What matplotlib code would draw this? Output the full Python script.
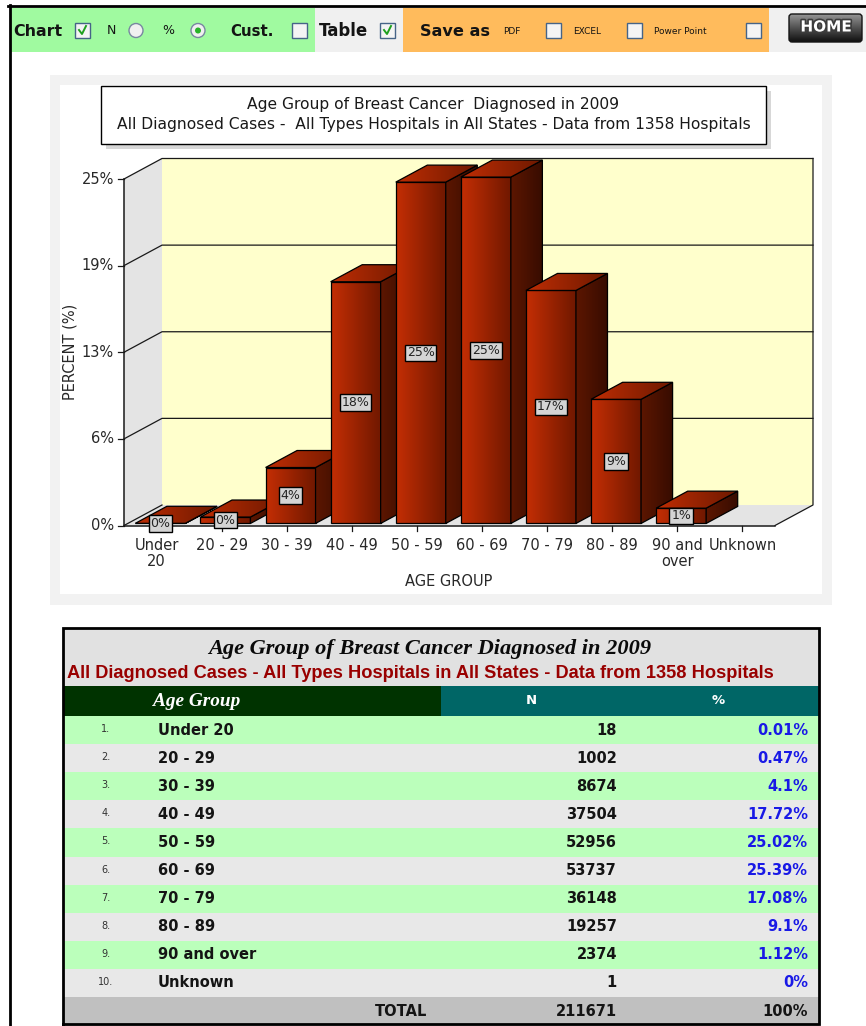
import numpy as np
import matplotlib.pyplot as plt
from matplotlib.patches import Rectangle, Polygon, Circle, FancyBboxPatch
from matplotlib.colors import LinearSegmentedColormap
import matplotlib.patheffects as pe

W, H = 866, 1026

# data
age_groups = ["Under 20", "20 - 29", "30 - 39", "40 - 49", "50 - 59",
              "60 - 69", "70 - 79", "80 - 89", "90 and over", "Unknown"]
x_labels = ["Under\n20", "20 - 29", "30 - 39", "40 - 49", "50 - 59",
            "60 - 69", "70 - 79", "80 - 89", "90 and\nover", "Unknown"]
counts = [18, 1002, 8674, 37504, 52956, 53737, 36148, 19257, 2374, 1]
percents = [0.01, 0.47, 4.1, 17.72, 25.02, 25.39, 17.08, 9.1, 1.12, 0]
y_max = 25.4  # axis top, ticks at quarters of it
y_ticks = [0, 6.35, 12.7, 19.05, 25.4]
y_tick_labels = ["0%", "6%", "13%", "19%", "25%"]

chart_title = "Age Group of Breast Cancer  Diagnosed in 2009"
chart_sub = "All Diagnosed Cases -  All Types Hospitals in All States - Data from 1358 Hospitals"
table_title = "Age Group of Breast Cancer Diagnosed in 2009"
table_sub = "All Diagnosed Cases - All Types Hospitals in All States - Data from 1358 Hospitals"


def rgb(r, g, b):
    return (r / 255, g / 255, b / 255)


fig = plt.figure(figsize=(W / 100, H / 100), dpi=100)
fig.patch.set_facecolor("white")
renderer = fig.canvas.get_renderer()

# page background axes in pixel units (y down)
bg = fig.add_axes([0, 0, 1, 1])
bg.set_xlim(0, W)
bg.set_ylim(H, 0)
bg.axis("off")
bg.set_autoscale_on(False)


def fit(t, width):
    w = t.get_window_extent(renderer=renderer).width
    t.set_fontsize(t.get_fontsize() * width / w)
    return t


def gradient(ax, patch, colors, extent, vertical=False, z=1):
    cmap = LinearSegmentedColormap.from_list("g", colors)
    arr = np.linspace(0, 1, 128)
    arr = arr.reshape(-1, 1) if vertical else arr.reshape(1, -1)
    im = ax.imshow(arr, cmap=cmap, extent=extent, aspect="auto", zorder=z,
                   interpolation="bilinear", origin="upper")
    im.set_clip_path(patch)


# ---------- toolbar ----------
bg.add_patch(Rectangle((10, 8), 305, 44, fc=rgb(160, 250, 160), lw=0))
bg.add_patch(Rectangle((315, 8), 88, 44, fc=rgb(240, 240, 240), lw=0))
bg.add_patch(Rectangle((403, 8), 366, 44, fc=rgb(255, 187, 92), lw=0))
bg.add_patch(Rectangle((769, 8), 97, 44, fc=rgb(240, 240, 240), lw=0))
bg.plot([8, W], [6, 6], color="black", lw=2)
bg.plot([9.5, 9.5], [5, H], color="black", lw=2)


def checkbox(x, checked=False):
    bg.add_patch(Rectangle((x, 23), 15, 15, fc=rgb(244, 244, 244), ec=rgb(70, 100, 135), lw=1))
    if checked:
        bg.plot([x + 4, x + 7, x + 11], [30, 34, 26], color=rgb(30, 160, 30), lw=1.4)


def radio(cx, selected=False):
    bg.add_patch(Circle((cx, 30.5), 7, fc=rgb(240, 240, 240), ec=rgb(120, 135, 160), lw=1))
    if selected:
        bg.add_patch(Circle((cx, 30.5), 3, fc=rgb(40, 180, 40), lw=0))


tool_kw = dict(va="center", color=rgb(20, 20, 20))
fit(bg.text(13, 31, "Chart", fontweight="bold", fontsize=11, **tool_kw), 49)
checkbox(75, True)
bg.text(107, 31, "N", fontsize=9, **tool_kw)
radio(136)
bg.text(162, 31, "%", fontsize=9, **tool_kw)
radio(198, True)
fit(bg.text(230, 31, "Cust.", fontweight="bold", fontsize=11, **tool_kw), 43)
checkbox(292)
fit(bg.text(319, 31, "Table", fontweight="bold", fontsize=11, **tool_kw), 49)
checkbox(380, True)
fit(bg.text(420, 31, "Save as", fontweight="bold", fontsize=11, **tool_kw), 70)
bg.text(503, 32, "PDF", fontsize=6.5, **tool_kw)
checkbox(546)
bg.text(573, 32, "EXCEL", fontsize=6.5, **tool_kw)
checkbox(627)
bg.text(654, 32, "Power Point", fontsize=6.5, **tool_kw)
checkbox(746)

home = FancyBboxPatch((789, 14), 73, 28, boxstyle="round,pad=0,rounding_size=3",
                      fc="none", ec=rgb(20, 20, 20), lw=1, zorder=3)
bg.add_patch(home)
gradient(bg, home, [rgb(150, 150, 150), rgb(80, 80, 80), rgb(15, 15, 15)],
         (789, 862, 42, 14), vertical=True, z=2)
bg.text(826, 27, "HOME", ha="center", va="center", fontsize=11, fontweight="bold",
        color="white", zorder=4,
        path_effects=[pe.withStroke(linewidth=2.4, foreground=rgb(60, 60, 60))])

# ---------- chart panel ----------
bg.add_patch(Rectangle((50, 75), 782, 530, fc=rgb(242, 242, 242), lw=0))
bg.add_patch(Rectangle((60, 85), 762, 509, fc="white", lw=0))
bg.add_patch(Rectangle((106, 91), 665, 58, fc=rgb(215, 215, 215), lw=0))
bg.add_patch(Rectangle((101, 86), 665, 58, fc="white", ec="black", lw=1))
t2 = fit(bg.text(433.5, 125, chart_sub, ha="center", va="center", fontsize=10,
                 color=rgb(25, 25, 25)), 631)
bg.text(433.5, 105, chart_title, ha="center", va="center", fontsize=t2.get_fontsize(),
        color=rgb(25, 25, 25))

ax = fig.add_axes([60 / W, 1 - 594 / H, 762 / W, 509 / H])
ax.axis("off")
X0, X1, Y0, YTOP = 124, 775, 525.5, 179
sx = (X1 - X0) / 10
sy = (Y0 - YTOP) / y_max
xlim = ((60 - X0) / sx, (822 - X0) / sx)
ylim = ((Y0 - 594) / sy, (Y0 - 85) / sy)
ax.set_xlim(*xlim)
ax.set_ylim(*ylim)
ax.set_autoscale_on(False)
DX, DY = 38 / sx, 20.5 / sy


def P(x, y, z):
    return (x + z * DX, y + z * DY)


def px_x(px):
    return (px - X0) / sx


def px_y(py):
    return (Y0 - py) / sy


n_cat = len(age_groups)
top = y_max
wall = rgb(228, 228, 228)
line_c = rgb(25, 25, 25)
ax.add_patch(Polygon([P(0, 0, 0), P(0, top, 0), P(0, top, 1), P(0, 0, 1)], fc=wall, lw=0, zorder=1))
ax.add_patch(Polygon([P(0, 0, 0), P(n_cat, 0, 0), P(n_cat, 0, 1), P(0, 0, 1)], fc=wall, lw=0, zorder=1))
ax.add_patch(Polygon([P(0, 0, 1), P(n_cat, 0, 1), P(n_cat, top, 1), P(0, top, 1)],
                     fc=rgb(255, 255, 204), lw=0, zorder=1))
for t, lab in zip(y_ticks, y_tick_labels):
    pts = [P(0, t, 0), P(0, t, 1)] if t == 0 else [P(0, t, 0), P(0, t, 1), P(n_cat, t, 1)]
    xs, ys = zip(*pts)
    ax.plot(xs, ys, color=line_c, lw=0.9, zorder=2)
    ax.plot([px_x(118), 0], [t, t], color=line_c, lw=0.9, zorder=2)
    ax.text(px_x(114), t, lab, ha="right", va="center", fontsize=10.5, color=rgb(40, 40, 40))
xs, ys = zip(P(n_cat, 0, 0), P(n_cat, 0, 1), P(n_cat, top, 1))
ax.plot(xs, ys, color=line_c, lw=0.9, zorder=2)
xs, ys = zip(P(0, top, 0), P(0, 0, 0), P(n_cat, 0, 0))
ax.plot(xs, ys, color=line_c, lw=1.1, zorder=2)

# bars
hw, z0, z1 = 0.384, 0.1, 0.93
for i, p in enumerate(percents):
    c = i + 0.5
    ax.plot([c, c], [0, px_y(531)], color=line_c, lw=0.9, zorder=2)
    ax.text(c, px_y(538), x_labels[i], ha="center", va="top", fontsize=10.5,
            linespacing=1.1, color=rgb(40, 40, 40))
    if p <= 0:
        continue
    xl, xr = c - hw, c + hw
    zb = 10 + i * 4
    faces = [
        ([P(xl, 0, z0), P(xr, 0, z0), P(xr, p, z0), P(xl, p, z0)],
         [rgb(196, 46, 4), rgb(112, 24, 0)]),
        ([P(xr, 0, z0), P(xr, 0, z1), P(xr, p, z1), P(xr, p, z0)],
         [rgb(92, 22, 0), rgb(55, 12, 0)]),
        ([P(xl, p, z0), P(xr, p, z0), P(xr, p, z1), P(xl, p, z1)],
         [rgb(190, 45, 4), rgb(110, 25, 0)]),
    ]
    for k, (pts, cols) in enumerate(faces):
        poly = Polygon(pts, closed=True, fc="none", ec="black", lw=0.9, zorder=zb + k + 0.5)
        ax.add_patch(poly)
        xs = [q[0] for q in pts]
        ys = [q[1] for q in pts]
        gradient(ax, poly, cols, (min(xs), max(xs), min(ys), max(ys)), z=zb + k)
    lx, ly = P(c, p / 2, z0)
    ax.text(lx, ly, f"{round(p)}%", ha="center", va="center", fontsize=9,
            color=rgb(35, 35, 35), zorder=zb + 3.8,
            bbox=dict(boxstyle="square,pad=0.14", fc=rgb(212, 212, 212), ec="black", lw=1))

ax.text(px_x(70), px_y(352), "PERCENT (%)", rotation=90, ha="center", va="center",
        fontsize=10.5, color=rgb(40, 40, 40))
ax.text(px_x(449), px_y(582), "AGE GROUP", ha="center", va="center",
        fontsize=10.5, color=rgb(40, 40, 40))
ax.set_xlim(*xlim)
ax.set_ylim(*ylim)

# ---------- table ----------
TX0, TX1 = 63, 819
row_top, row_h = 716, 28.1
bg.add_patch(Rectangle((TX0, 629), TX1 - TX0, 57, fc=rgb(225, 225, 225), lw=0))
bg.add_patch(Rectangle((TX0, 686), 441 - TX0, 30, fc=rgb(0, 51, 0), lw=0))
bg.add_patch(Rectangle((441, 686), TX1 - 441, 30, fc=rgb(0, 102, 102), lw=0))
fit(bg.text(430, 649, table_title, ha="center", va="center", fontsize=15, style="italic",
            fontweight="bold", family=["Liberation Serif", "DejaVu Serif"],
            color=rgb(10, 10, 10)), 445)
fit(bg.text(420.5, 673, table_sub, ha="center", va="center", fontsize=10, fontweight="bold",
            family=["Liberation Sans", "DejaVu Sans"], color=rgb(153, 0, 0)), 707)
fit(bg.text(197, 701, "Age Group", ha="center", va="center", fontsize=13, style="italic",
            fontweight="bold", family=["Liberation Serif", "DejaVu Serif"], color="white"), 87)
bg.text(531, 701, "N", ha="center", va="center", fontsize=9.5, fontweight="bold", color="white")
bg.text(718, 701, "%", ha="center", va="center", fontsize=9.5, fontweight="bold", color="white")

dark = rgb(20, 20, 20)
blue = rgb(25, 25, 230)
for i, (g, n, p) in enumerate(zip(age_groups, counts, percents)):
    y = row_top + i * row_h
    fc = rgb(187, 255, 187) if i % 2 == 0 else rgb(232, 232, 232)
    bg.add_patch(Rectangle((TX0, y), TX1 - TX0, row_h, fc=fc, lw=0))
    yc = y + row_h / 2
    bg.text(106, yc - 1, f"{i + 1}.", ha="center", va="center", fontsize=7, color=rgb(50, 50, 50))
    bg.text(158, yc, g, va="center", fontsize=10.5, fontweight="bold", color=dark)
    bg.text(617, yc, f"{n}", ha="right", va="center", fontsize=10.5, fontweight="bold", color=dark)
    bg.text(808, yc, f"{p:g}%", ha="right", va="center", fontsize=10.5, fontweight="bold", color=blue)

y = row_top + n_cat * row_h
bg.add_patch(Rectangle((TX0, y), TX1 - TX0, H - y, fc=rgb(192, 192, 192), lw=0))
yc = y + row_h / 2
bg.text(427, yc, "TOTAL", ha="right", va="center", fontsize=10.5, fontweight="bold", color=dark)
bg.text(617, yc, f"{sum(counts)}", ha="right", va="center", fontsize=10.5, fontweight="bold", color=dark)
bg.text(808, yc, "100%", ha="right", va="center", fontsize=10.5, fontweight="bold", color=dark)
bg.plot([TX0 - 0.5, TX0 - 0.5, TX1, TX1, TX0 - 0.5], [1024, 628, 628, 1024, 1024],
        color="black", lw=2, solid_joinstyle="miter")

fig.savefig("out.png", dpi=100, facecolor="white")
